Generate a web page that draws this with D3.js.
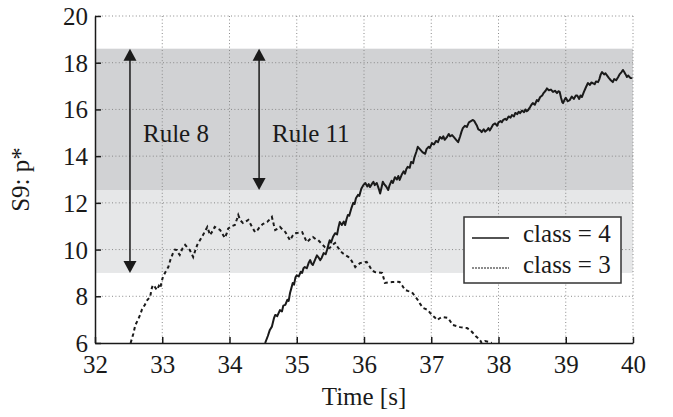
<!DOCTYPE html>
<html>
<head>
<meta charset="utf-8">
<script src="https://cdn.jsdelivr.net/npm/d3@7"></script>
<style>
  body { margin: 0; background: #fff; }
</style>
</head>
<body>
<div id="chart"></div>
<script>
// class = 4 (solid)
const class4Time = [34.53,34.57,34.60,34.63,34.66,34.68,34.71,34.75,34.78,34.80,34.83,34.86,34.88,34.90,34.92,34.94,34.96,34.98,35.00,35.03,35.06,35.08,35.10,35.12,35.15,35.18,35.20,35.22,35.24,35.27,35.30,35.32,35.35,35.37,35.40,35.43,35.45,35.47,35.49,35.51,35.54,35.57,35.60,35.62,35.64,35.67,35.70,35.72,35.74,35.76,35.78,35.81,35.84,35.86,35.88,35.91,35.93,35.96,35.99,36.02,36.05,36.07,36.09,36.12,36.14,36.16,36.19,36.22,36.24,36.26,36.28,36.30,36.33,36.36,36.38,36.41,36.43,36.46,36.49,36.51,36.53,36.56,36.59,36.61,36.63,36.65,36.68,36.70,36.73,36.75,36.78,36.80,36.83,36.86,36.88,36.91,36.93,36.96,36.98,37.01,37.04,37.07,37.10,37.13,37.16,37.18,37.20,37.23,37.26,37.28,37.31,37.34,37.37,37.40,37.43,37.45,37.47,37.50,37.53,37.56,37.59,37.62,37.64,37.66,37.68,37.70,37.73,37.75,37.78,37.80,37.83,37.85,37.87,37.90,37.92,37.95,37.98,38.00,38.03,38.05,38.07,38.10,38.12,38.15,38.18,38.20,38.23,38.25,38.28,38.30,38.32,38.35,38.38,38.40,38.42,38.44,38.47,38.49,38.51,38.54,38.57,38.59,38.62,38.65,38.67,38.70,38.72,38.75,38.78,38.81,38.84,38.87,38.89,38.91,38.93,38.95,38.96,38.98,39.00,39.03,39.06,39.09,39.12,39.15,39.17,39.20,39.22,39.24,39.27,39.30,39.33,39.36,39.38,39.40,39.43,39.45,39.48,39.50,39.52,39.54,39.57,39.59,39.61,39.64,39.67,39.70,39.72,39.75,39.78,39.80,39.83,39.85,39.87,39.89,39.91,39.93,39.96,39.99];
const class4Value = [6.00,6.30,6.56,6.70,7.05,7.20,7.15,7.41,7.35,7.60,7.63,7.85,7.80,8.14,8.35,8.57,8.50,8.80,8.90,8.85,9.05,9.00,9.20,9.25,9.20,9.45,9.55,9.40,9.34,9.55,9.75,9.68,9.55,9.64,9.85,9.80,9.98,10.20,10.40,10.30,10.55,10.70,10.65,10.95,11.18,11.05,11.20,11.05,11.30,11.48,11.45,11.75,12.00,11.95,12.20,12.34,12.30,12.60,12.76,12.85,12.70,12.80,12.68,12.82,12.90,12.76,12.85,12.60,12.40,12.65,12.90,12.80,12.70,12.55,12.75,12.95,12.85,13.10,13.00,13.15,12.98,13.20,13.35,13.25,13.45,13.54,13.50,13.75,13.70,13.95,14.20,14.40,14.30,14.20,14.15,14.10,14.30,14.40,14.35,14.56,14.50,14.65,14.60,14.82,14.75,14.85,14.70,14.80,14.95,14.85,14.90,14.80,14.70,14.60,14.85,15.05,15.20,15.30,15.25,15.45,15.50,15.55,15.50,15.40,15.30,15.15,15.10,15.03,15.15,15.05,15.12,15.20,15.10,15.25,15.35,15.40,15.30,15.45,15.50,15.45,15.55,15.60,15.55,15.70,15.65,15.76,15.70,15.85,15.80,15.90,15.84,15.95,15.88,16.00,15.92,15.97,16.10,16.20,16.27,16.20,16.40,16.35,16.53,16.60,16.70,16.80,16.90,16.82,16.85,16.75,16.80,16.70,16.78,16.75,16.50,16.30,16.27,16.40,16.50,16.35,16.40,16.55,16.45,16.60,16.60,16.45,16.60,16.53,16.75,16.95,17.13,17.05,17.15,17.13,17.08,17.20,17.17,17.30,17.50,17.60,17.50,17.55,17.47,17.35,17.25,17.17,17.30,17.25,17.39,17.50,17.60,17.69,17.60,17.50,17.39,17.45,17.35,17.34];

// class = 3 (dashed)
const class3Time = [32.53,32.57,32.60,32.64,32.67,32.70,32.74,32.78,32.82,32.84,32.86,32.89,32.92,32.95,32.97,32.99,33.01,33.05,33.09,33.12,33.16,33.19,33.22,33.24,33.26,33.30,33.34,33.37,33.41,33.44,33.46,33.49,33.52,33.55,33.59,33.63,33.67,33.69,33.71,33.75,33.78,33.82,33.86,33.90,33.93,33.96,33.98,34.03,34.08,34.11,34.13,34.16,34.20,34.24,34.28,34.33,34.38,34.42,34.45,34.50,34.56,34.60,34.63,34.66,34.68,34.72,34.75,34.79,34.83,34.87,34.90,34.94,34.97,35.02,35.08,35.12,35.15,35.20,35.24,35.28,35.32,35.37,35.42,35.46,35.49,35.53,35.57,35.61,35.64,35.68,35.72,35.76,35.79,35.83,35.87,35.91,35.94,36.00,36.04,36.08,36.12,36.16,36.22,36.27,36.29,36.31,36.37,36.42,36.48,36.53,36.57,36.61,36.66,36.71,36.76,36.80,36.84,36.88,36.92,36.95,36.98,37.01,37.05,37.09,37.12,37.16,37.21,37.25,37.29,37.32,37.38,37.43,37.48,37.53,37.58,37.62,37.66,37.70,37.73,37.75,37.80,37.85,37.90];
const class3Value = [6.00,6.40,6.77,7.00,7.20,7.45,7.63,7.85,7.97,8.30,8.48,8.40,8.27,8.45,8.35,8.60,8.83,9.05,9.25,9.55,9.85,10.00,9.98,9.85,9.77,10.05,10.20,10.10,9.98,9.80,9.68,9.95,10.20,10.35,10.54,10.75,10.97,10.80,10.62,10.80,10.97,10.90,10.84,10.65,10.50,10.70,10.90,11.00,11.05,11.30,11.48,11.25,11.14,11.20,11.27,11.00,10.75,10.85,10.97,11.10,11.18,11.30,11.40,11.05,10.84,10.90,10.97,10.85,10.75,10.55,10.40,10.60,10.70,10.72,10.75,10.50,10.32,10.45,10.54,10.45,10.40,10.25,10.10,10.05,10.07,10.20,10.28,10.10,9.98,9.85,9.77,9.70,9.64,9.45,9.25,9.35,9.42,9.45,9.47,9.30,9.10,9.04,9.02,9.00,8.80,8.57,8.60,8.61,8.62,8.61,8.45,8.27,8.22,8.18,8.00,7.84,7.65,7.50,7.45,7.41,7.30,7.20,7.10,6.98,7.05,7.11,7.09,7.07,6.90,6.77,6.72,6.68,6.66,6.64,6.55,6.43,6.30,6.20,6.10,6.00,6.08,6.05,6.00];

// shaded rule ranges
const bandLow = [12.55, 9.0];
const bandHigh = [18.6, 12.55];
const bandColors = ["#d1d2d4", "#e6e7e8"];

// rule arrows
const ruleLabels = ["Rule 8", "Rule 11"];
const ruleTime = [32.52, 34.44];
const ruleTop = [18.6, 18.6];
const ruleBottom = [9.0, 12.55];

const xTicks = [32, 33, 34, 35, 36, 37, 38, 39, 40];
const yTicks = [6, 8, 10, 12, 14, 16, 18, 20];
const legendLabels = ["class = 4", "class = 3"];

const FONT = "'Liberation Serif', serif";
const W = 673, H = 417;
const margin = {top: 16, right: 40, bottom: 74, left: 95};
const iw = W - margin.left - margin.right;
const ih = H - margin.top - margin.bottom;

const svg = d3.select("#chart").append("svg")
  .attr("width", W).attr("height", H);

const g = svg.append("g")
  .attr("transform", `translate(${margin.left},${margin.top})`);

const x = d3.scaleLinear().domain([32, 40]).range([0, iw]);
const y = d3.scaleLinear().domain([6, 20]).range([ih, 0]);

svg.append("defs").append("clipPath").attr("id", "plot")
  .append("rect").attr("width", iw).attr("height", ih);

// bands
g.selectAll(".band")
  .data(bandLow)
  .enter().append("rect")
  .attr("x", 0)
  .attr("width", iw)
  .attr("y", (d, i) => y(bandHigh[i]))
  .attr("height", (d, i) => y(d) - y(bandHigh[i]))
  .attr("fill", (d, i) => bandColors[i]);

// dotted grid
g.selectAll(".gx")
  .data(xTicks.slice(1))
  .enter().append("line")
  .attr("x1", d => x(d)).attr("x2", d => x(d))
  .attr("y1", 0).attr("y2", ih)
  .attr("stroke", "#8a8a8a").attr("stroke-width", 1)
  .attr("stroke-dasharray", "1,2.4");
g.selectAll(".gy")
  .data(yTicks.slice(1))
  .enter().append("line")
  .attr("x1", 0).attr("x2", iw)
  .attr("y1", d => y(d)).attr("y2", d => y(d))
  .attr("stroke", "#8a8a8a").attr("stroke-width", 1)
  .attr("stroke-dasharray", "1,2.4");

// axes
const xAxis = g.append("g")
  .attr("transform", `translate(0,${ih})`)
  .call(d3.axisBottom(x).tickValues(xTicks).tickSize(-6).tickSizeOuter(0).tickPadding(0));
xAxis.selectAll("text")
  .attr("y", 30).attr("dy", 0);

const yAxis = g.append("g")
  .call(d3.axisLeft(y).tickValues(yTicks).tickSize(-6).tickSizeOuter(0).tickPadding(7));
yAxis.selectAll("text")
  .attr("dy", "0.34em");

[xAxis, yAxis].forEach(a => {
  a.attr("font-family", null).attr("font-size", null);
  a.select(".domain").attr("stroke", "#1a1a1a").attr("stroke-width", 1.5);
  a.selectAll(".tick line").attr("stroke", "#1a1a1a").attr("stroke-width", 1.5);
});

// arrows
const arrows = g.append("g");
ruleLabels.forEach((label, i) => {
  const ax = x(ruleTime[i]);
  const yt = y(ruleTop[i]);
  const yb = y(ruleBottom[i]);
  arrows.append("line")
    .attr("x1", ax).attr("x2", ax)
    .attr("y1", yt + 6).attr("y2", yb - 6)
    .attr("stroke", "#1a1a1a").attr("stroke-width", 1.5);
  arrows.append("path")
    .attr("d", `M${ax},${yt} L${ax - 6.5},${yt + 12} L${ax + 6.5},${yt + 12} Z`)
    .attr("fill", "#1a1a1a");
  arrows.append("path")
    .attr("d", `M${ax},${yb} L${ax - 6.5},${yb - 12} L${ax + 6.5},${yb - 12} Z`)
    .attr("fill", "#1a1a1a");
  arrows.append("text")
    .attr("x", ax + 13)
    .attr("y", y(14.6))
    .text(label);
});

// series
const line = d3.line()
  .x(d => x(d[0]))
  .y(d => y(d[1]));

const lines = g.append("g").attr("clip-path", "url(#plot)");
lines.append("path")
  .datum(class3Time.map((t, i) => [t, class3Value[i]]))
  .attr("d", line)
  .attr("fill", "none")
  .attr("stroke", "#1a1a1a")
  .attr("stroke-width", 2)
  .attr("stroke-dasharray", "3.5,3");
lines.append("path")
  .datum(class4Time.map((t, i) => [t, class4Value[i]]))
  .attr("d", line)
  .attr("fill", "none")
  .attr("stroke", "#1a1a1a")
  .attr("stroke-width", 2)
  .attr("stroke-linejoin", "round");

// legend
const lg = svg.append("g").attr("transform", "translate(464,217)");
lg.append("rect")
  .attr("width", 157).attr("height", 66)
  .attr("fill", "#fff")
  .attr("stroke", "#333").attr("stroke-width", 1.5);
legendLabels.forEach((label, i) => {
  const ly = 21 + i * 30;
  lg.append("line")
    .attr("x1", 8).attr("x2", 45)
    .attr("y1", ly).attr("y2", ly)
    .attr("stroke", "#1a1a1a")
    .attr("stroke-width", i === 0 ? 1.5 : 1.2)
    .attr("stroke-dasharray", i === 0 ? null : "2,1");
  lg.append("text")
    .attr("x", 59).attr("y", ly + 4 + (i === 1 ? 1 : 0))
    .text(label);
});

// axis titles
svg.append("text")
  .attr("x", margin.left + iw / 2)
  .attr("y", 405)
  .attr("text-anchor", "middle")
  .text("Time [s]");

svg.append("text")
  .attr("transform", `translate(29,${margin.top + ih / 2}) rotate(-90)`)
  .attr("text-anchor", "middle")
  .text("S9: p*");

svg.selectAll("text")
  .style("font-family", FONT)
  .style("font-size", "25px")
  .style("fill", "#1a1a1a");
</script>
</body>
</html>
